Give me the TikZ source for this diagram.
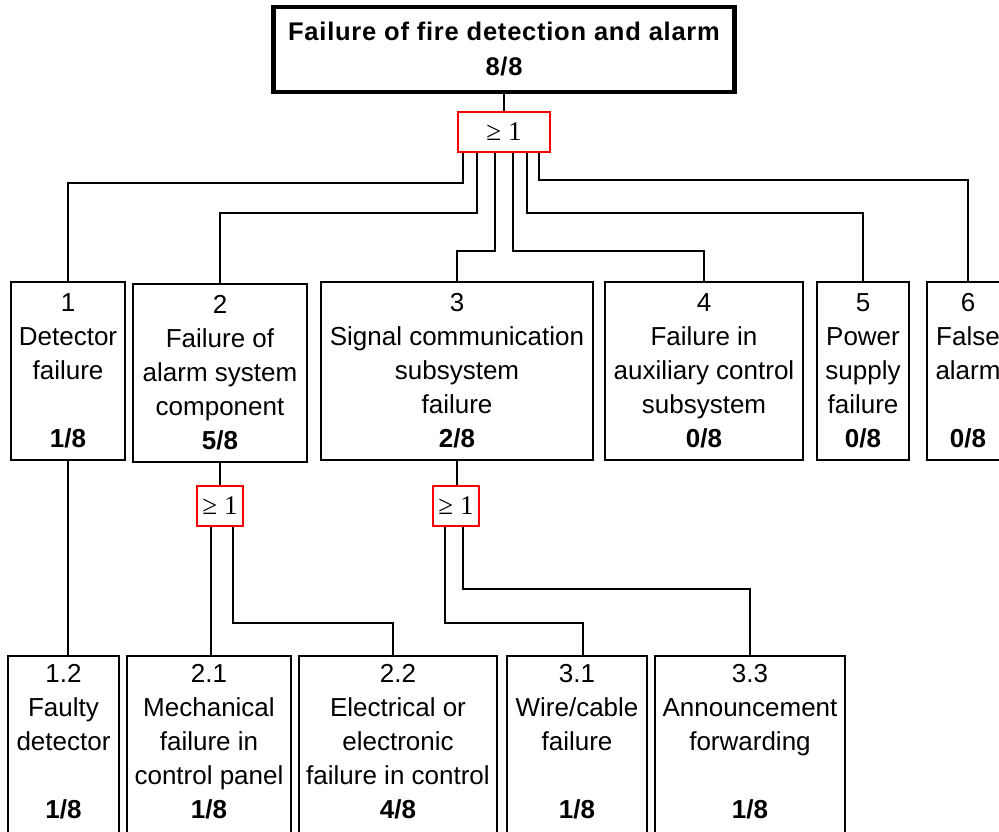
\documentclass[tikz,border=0pt]{standalone}
\usepackage{fontspec}
\setmainfont{Liberation Sans}
\newfontfamily\gatefont{Liberation Serif}
\newfontfamily\titlefont[LetterSpace=3]{Liberation Sans}
\tikzset{
  every picture/.style={x=1pt,y=-1pt},
  box/.style={draw, line width=2pt, inner sep=0pt, align=center,
    font=\fontsize{26}{34}\selectfont},
  topbox/.style={draw, line width=4.5pt, inner sep=0pt, align=center,
    font=\fontsize{25.5}{35}\selectfont\titlefont\bfseries},
  gate/.style={draw=red, line width=2.2pt, fill=white, inner sep=0pt,
    minimum width=#1, minimum height=40pt, font=\fontsize{27}{28}\selectfont\gatefont},
  wire/.style={line width=2pt}
}
\begin{document}
\begin{tikzpicture}
\useasboundingbox (0,0) rectangle (999,832);
% top event
\node[topbox, minimum width=461pt, minimum height=85pt] (top) at (504,49.5)
  {Failure of fire detection and alarm\\8/8};
\node[gate=92pt] (g1) at (504,132) {≥ 1};
% first level
\node[box, minimum width=114pt, minimum height=178pt] (b1) at (68,371)
  {1\\Detector\\failure\\\\\textbf{1/8}};
\node[box, minimum width=174pt, minimum height=178pt] (b2) at (220,373)
  {2\\Failure of\\alarm system\\component\\\textbf{5/8}};
\node[box, minimum width=272pt, minimum height=178pt] (b3) at (457,371)
  {3\\Signal communication\\subsystem\\failure\\\textbf{2/8}};
\node[box, minimum width=198pt, minimum height=178pt] (b4) at (704,371)
  {4\\Failure in\\auxiliary control\\subsystem\\\textbf{0/8}};
\node[box, minimum width=92pt, minimum height=178pt] (b5) at (863,371)
  {5\\Power\\supply\\failure\\\textbf{0/8}};
\node[box, minimum width=82pt, minimum height=178pt] (b6) at (968,371)
  {6\\False\\alarm\\\\\textbf{0/8}};
% gates level 2
\node[gate=46pt] (g2) at (220,506) {≥ 1};
\node[gate=46pt] (g3) at (456,506) {≥ 1};
% bottom level
\node[box, minimum width=111pt, minimum height=216pt] (b12) at (63.5,764)
  {1.2\\Faulty\\detector\\\\\textbf{1/8}\\\strut};
\node[box, minimum width=164pt, minimum height=216pt] (b21) at (209,764)
  {2.1\\Mechanical\\failure in\\control panel\\\textbf{1/8}\\\strut};
\node[box, minimum width=198pt, minimum height=216pt] (b22) at (398,764)
  {2.2\\Electrical or\\electronic\\failure in control\\\textbf{4/8}\\\strut};
\node[box, minimum width=140pt, minimum height=216pt] (b31) at (577,764)
  {3.1\\Wire/cable\\failure\\\\\textbf{1/8}\\\strut};
\node[box, minimum width=190pt, minimum height=216pt] (b33) at (750,764)
  {3.3\\Announcement\\forwarding\\\\\textbf{1/8}\\\strut};
% connectors
\draw[wire] (top.south) -- (g1.north);
\draw[wire] ([xshift=-41pt]g1.south) -- ++(0,30) -| (b1.north);
\draw[wire] ([xshift=-27pt]g1.south) -- ++(0,60) -| (b2.north);
\draw[wire] ([xshift=-9pt]g1.south) -- ++(0,98) -| (b3.north);
\draw[wire] ([xshift=9pt]g1.south) -- ++(0,98) -| (b4.north);
\draw[wire] ([xshift=23pt]g1.south) -- ++(0,60) -| (b5.north);
\draw[wire] ([xshift=35pt]g1.south) -- ++(0,27) -| (b6.north);
\draw[wire] (b2.south) -- (g2.north);
\draw[wire] (b3.south) -- (b3.south |- g3.north);
\draw[wire] (b1.south) -- (b1.south |- b12.north);
\draw[wire] ([xshift=-9pt]g2.south) -- ([xshift=-9pt]g2.south |- b21.north);
\draw[wire] ([xshift=13pt]g2.south) -- ++(0,96) -| ([xshift=-5pt]b22.north);
\draw[wire] ([xshift=-11pt]g3.south) -- ++(0,96) -| ([xshift=6pt]b31.north);
\draw[wire] ([xshift=7pt]g3.south) -- ++(0,62) -| (b33.north);
\end{tikzpicture}
\end{document}
